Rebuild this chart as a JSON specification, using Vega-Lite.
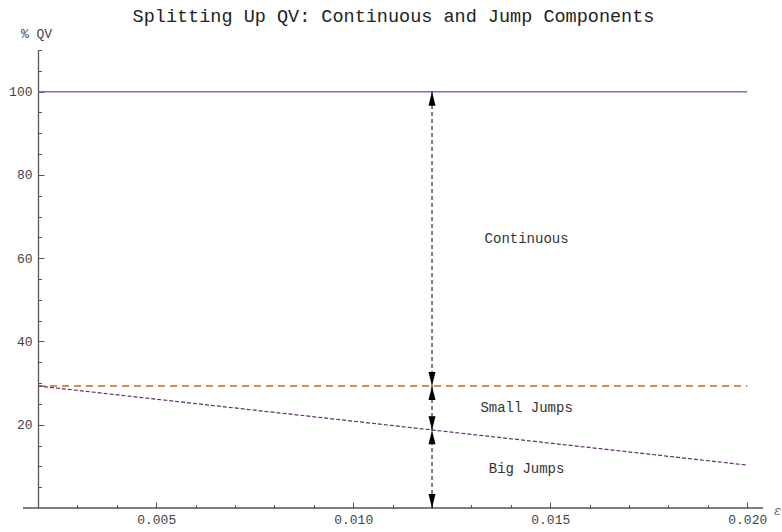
{
  "$schema": "https://vega.github.io/schema/vega-lite/v6.json",
  "width": 725,
  "height": 458,
  "autosize": {"type": "none"},
  "padding": {"left": 38, "top": 50, "right": 19, "bottom": 24},
  "config": {
    "view": {"stroke": null},
    "font": "Liberation Mono",
    "axis": {"grid": false, "labelFont": "Liberation Mono", "labelFontSize": 13, "labelColor": "#444", "tickColor": "#555", "domainColor": "#555", "domainWidth": 1.3, "tickWidth": 1}
  },
  "title": {
    "text": "Splitting Up QV: Continuous and Jump Components",
    "font": "Liberation Mono",
    "fontSize": 18.5,
    "fontWeight": "normal",
    "color": "#222",
    "anchor": "middle",
    "frame": "group",
    "baseline": "alphabetic",
    "offset": -13,
    "dx": -7
  },
  "datasets": {
    "lines": [
      {"series": "Total", "x": 0.002, "y": 100},
      {"series": "Total", "x": 0.02, "y": 100},
      {"series": "Small", "x": 0.002, "y": 29.3},
      {"series": "Small", "x": 0.02, "y": 29.3},
      {"series": "Big", "x": 0.002, "y": 29.3},
      {"series": "Big", "x": 0.02, "y": 10.3}
    ],
    "xaxisline": [
      {"x": 0.00162, "x2": 0.0204, "y": 0}
    ],
    "vrule": [
      {"x": 0.012, "y": 0, "y2": 100}
    ],
    "arrows": [
      {"x": 0.012, "y": 100, "dir": "up"},
      {"x": 0.012, "y": 29.3, "dir": "down"},
      {"x": 0.012, "y": 29.3, "dir": "up"},
      {"x": 0.012, "y": 18.7, "dir": "down"},
      {"x": 0.012, "y": 18.7, "dir": "up"},
      {"x": 0.012, "y": 0, "dir": "down"}
    ],
    "labels": [
      {"x": 0.0144, "y": 64.6, "label": "Continuous"},
      {"x": 0.0144, "y": 24.0, "label": "Small Jumps"},
      {"x": 0.0144, "y": 9.4, "label": "Big Jumps"}
    ]
  },
  "layer": [
    {
      "data": {"name": "lines"},
      "mark": {"type": "line"},
      "encoding": {
        "x": {
          "field": "x", "type": "quantitative",
          "scale": {"domain": [0.002, 0.0204], "nice": false, "zero": false},
          "axis": {"orient": "bottom", "values": [0.005, 0.01, 0.015, 0.02], "format": ".3f", "tickSize": -6, "labelPadding": 11, "domain": false,
            "title": "ε", "titleFont": "DejaVu Serif", "titleFontStyle": "italic", "titleFontWeight": "normal", "titleFontSize": 13, "titleColor": "#666",
            "titleX": 739, "titleY": 2, "titleAlign": "center", "titleBaseline": "middle"}
        },
        "y": {
          "field": "y", "type": "quantitative",
          "scale": {"domain": [0, 110], "nice": false},
          "axis": {"orient": "left", "values": [20, 40, 60, 80, 100], "tickSize": -6, "labelPadding": 12,
            "title": "% QV", "titleFont": "Liberation Mono", "titleFontWeight": "normal", "titleFontSize": 13, "titleColor": "#444", "titleAngle": 0,
            "titleX": -2, "titleY": -13, "titleAlign": "center", "titleBaseline": "alphabetic"}
        },
        "color": {"field": "series", "type": "nominal", "scale": {"domain": ["Total", "Small", "Big"], "range": ["#6f6ff0", "#cc6a1a", "#60306a"]}, "legend": null},
        "strokeDash": {"field": "series", "type": "nominal", "scale": {"domain": ["Total", "Small", "Big"], "range": [[1, 0], [7, 5], [4, 2]]}, "legend": null},
        "strokeWidth": {"field": "series", "type": "nominal", "scale": {"domain": ["Total", "Small", "Big"], "range": [1.5, 1.2, 1.2]}, "legend": null}
      }
    },
    {
      "data": {"name": "xaxisline"},
      "mark": {"type": "rule", "color": "#555", "strokeWidth": 1.3},
      "encoding": {
        "x": {"field": "x", "type": "quantitative",
          "axis": {"orient": "bottom", "values": [0.003, 0.004, 0.006, 0.007, 0.008, 0.009, 0.011, 0.012, 0.013, 0.014, 0.016, 0.017, 0.018, 0.019], "labels": false, "tickSize": -3.5, "domain": false, "title": null}},
        "x2": {"field": "x2"},
        "y": {"field": "y", "type": "quantitative",
          "axis": {"orient": "left", "values": [5, 10, 15, 25, 30, 35, 45, 50, 55, 65, 70, 75, 85, 90, 95, 105, 110], "labels": false, "tickSize": -3.5, "domain": false, "title": null}}
      }
    },
    {
      "data": {"name": "vrule"},
      "mark": {"type": "rule", "color": "black", "strokeWidth": 1, "strokeDash": [4, 3]},
      "encoding": {
        "x": {"field": "x", "type": "quantitative", "axis": null},
        "y": {"field": "y", "type": "quantitative", "axis": null},
        "y2": {"field": "y2"}
      }
    },
    {
      "data": {"name": "arrows"},
      "mark": {"type": "point", "filled": true, "color": "black", "opacity": 1, "size": 784, "strokeWidth": 0},
      "encoding": {
        "x": {"field": "x", "type": "quantitative", "axis": null},
        "y": {"field": "y", "type": "quantitative", "axis": null},
        "shape": {"field": "dir", "type": "nominal", "scale": {"domain": ["up", "down"], "range": ["M0,0L-0.25,1L0.25,1Z", "M0,0L-0.25,-1L0.25,-1Z"]}, "legend": null}
      }
    },
    {
      "data": {"name": "labels"},
      "mark": {"type": "text", "font": "Liberation Mono", "fontSize": 14, "color": "#333", "align": "center", "baseline": "middle"},
      "encoding": {
        "x": {"field": "x", "type": "quantitative", "axis": null},
        "y": {"field": "y", "type": "quantitative", "axis": null},
        "text": {"field": "label", "type": "nominal"}
      }
    }
  ],
  "resolve": {"axis": {"x": "independent", "y": "independent"}}
}
